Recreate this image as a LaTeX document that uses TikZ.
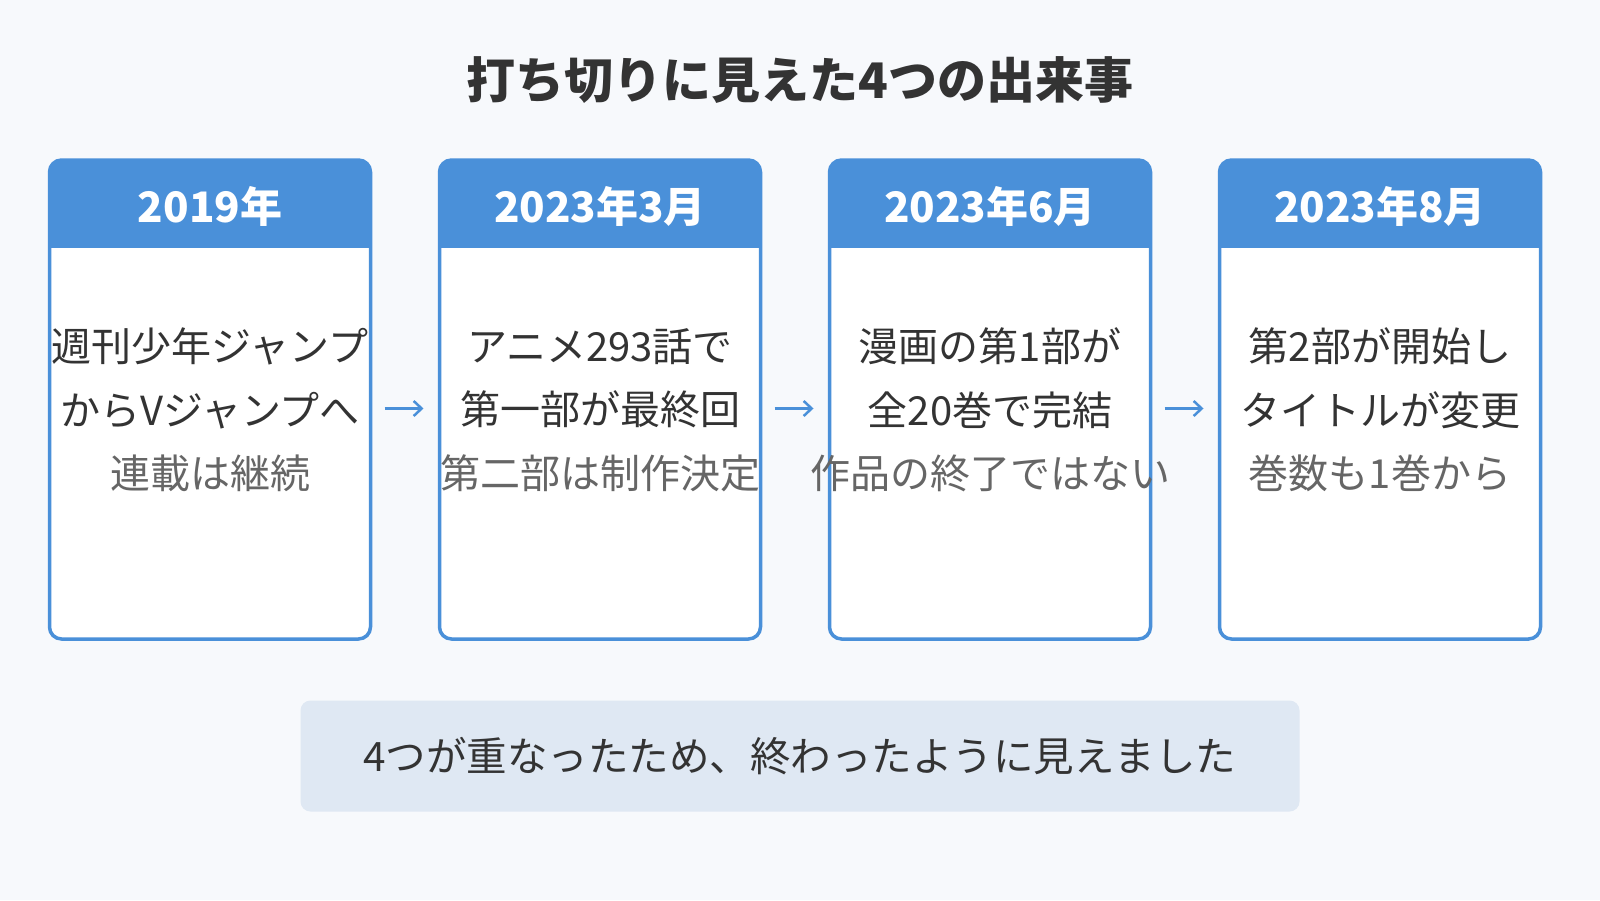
\documentclass[tikz,border=0pt]{standalone}
\usepackage{fontspec}
\setmainfont{Noto Sans CJK JP}
\usetikzlibrary{arrows.meta}
\definecolor{cardblue}{HTML}{4A90D9}
\definecolor{pagebg}{HTML}{F7F9FC}
\definecolor{notebg}{HTML}{DFE8F3}
\definecolor{textdark}{HTML}{333333}
\definecolor{textgray}{HTML}{666666}
\begin{document}
\begin{tikzpicture}[x=1pt,y=-1pt,
	card/.style={draw=cardblue,fill=white,line width=3.5pt,rounded corners=12pt,
		minimum width=321pt,minimum height=479pt,inner sep=0pt,outer sep=0pt,
		path picture={\fill[cardblue,sharp corners] (path picture bounding box.north west)
			rectangle ([yshift=-88pt]path picture bounding box.north east);}},
	head/.style={text=white,font=\fontsize{42}{48}\selectfont\bfseries},
	body/.style={text=textdark,align=center,font=\fontsize{40}{63.5}\selectfont},
	link/.style={cardblue,line width=2.5pt,-{Straight Barb[length=8pt,width=15pt]}}]
	
	% background
	\fill[pagebg] (0,0) rectangle (1600,900);
	
	% title
	\node[text=textdark,font=\fontsize{49}{56}\selectfont\bfseries] (title) at (800,80) {打ち切りに見えた4つの出来事};
	
	% first card
	\node[card] (c1) at (210,399.5) {};
	\node[head] (h1) at (210,206) {2019年};
	\node[body] (b1) at (210,410) {週刊少年ジャンプ\\からVジャンプへ\\\textcolor{textgray}{連載は継続}};
	
	% second card
	\node[card] (c2) at (600,399.5) {};
	\node[head] (h2) at (600,206) {2023年3月};
	\node[body] (b2) at (600,410) {アニメ293話で\\第一部が最終回\\\textcolor{textgray}{第二部は制作決定}};
	
	% third card
	\node[card] (c3) at (990,399.5) {};
	\node[head] (h3) at (990,206) {2023年6月};
	\node[body] (b3) at (990,410) {漫画の第1部が\\全20巻で完結\\\textcolor{textgray}{作品の終了ではない}};
	
	% fourth card
	\node[card] (c4) at (1380,399.5) {};
	\node[head] (h4) at (1380,206) {2023年8月};
	\node[body] (b4) at (1380,410) {第2部が開始し\\タイトルが変更\\\textcolor{textgray}{巻数も1巻から}};
	
	%arrows
	\draw[link] ([xshift=14pt,yshift=-9pt]c1.east) -- ([xshift=-16pt,yshift=-9pt]c2.west);
	\draw[link] ([xshift=14pt,yshift=-9pt]c2.east) -- ([xshift=-16pt,yshift=-9pt]c3.west);
	\draw[link] ([xshift=14pt,yshift=-9pt]c3.east) -- ([xshift=-16pt,yshift=-9pt]c4.west);
	
	% summary
	\node[fill=notebg,rounded corners=10pt,minimum width=999pt,minimum height=111pt,
		text=textdark,font=\fontsize{40.5}{48}\selectfont] (note) at (800,756) {4つが重なったため、終わったように見えました};
\end{tikzpicture}
\end{document}
